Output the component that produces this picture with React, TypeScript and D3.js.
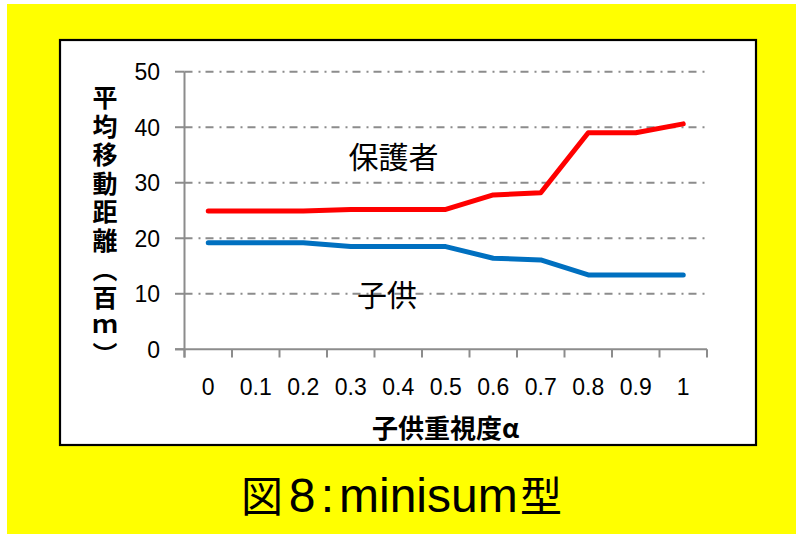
import React from "react";
import * as d3 from "d3";

const categories = ["0", "0.1", "0.2", "0.3", "0.4", "0.5", "0.6", "0.7", "0.8", "0.9", "1"];
const guardianValues = [24.9, 24.9, 24.9, 25.2, 25.2, 25.2, 27.8, 28.2, 39.0, 39.0, 40.6];
const childValues = [19.2, 19.2, 19.2, 18.5, 18.5, 18.5, 16.4, 16.1, 13.4, 13.4, 13.4];
const yTicks = [0, 10, 20, 30, 40, 50];

const W = 796;
const H = 534;

export default function App() {
  const x = d3.scaleBand<string>().domain(categories).range([184.5, 707]).padding(0);
  const y = d3.scaleLinear().domain([0, 50]).range([349.3, 71.7]);
  const line = d3
    .line<number>()
    .x((_, i) => (x(categories[i]) as number) + x.bandwidth() / 2)
    .y((d) => y(d));
  const boundaries = [...categories.map((c) => x(c) as number), x.range()[1]];
  const gridColor = "#8c8c8c";
  const numFont = "'Liberation Sans', Arial, sans-serif";
  const cjkFont = "'Noto Sans CJK JP', sans-serif";

  return (
    <svg
      width={W}
      height={H}
      style={{ position: "absolute", left: 0, top: 0, background: "#ffffff" }}
    >
      <rect x={7} y={4} width={W - 7} height={H - 4} fill="#ffff00" />
      <rect x={60} y={40} width={696} height={405} fill="#ffffff" stroke="#000000" strokeWidth={2.2} />

      {/* gridlines */}
      {yTicks
        .filter((t) => t > 0)
        .map((t) => (
          <line
            key={"g" + t}
            x1={184.5}
            x2={707}
            y1={y(t)}
            y2={y(t)}
            stroke={gridColor}
            strokeWidth={2}
            strokeDasharray="8,6,2,5"
          />
        ))}

      {/* y axis */}
      <line x1={184.5} x2={184.5} y1={y(50)} y2={357.5} stroke={gridColor} strokeWidth={2} />
      {yTicks.map((t) => (
        <line key={"yt" + t} x1={175} x2={184.5} y1={y(t)} y2={y(t)} stroke={gridColor} strokeWidth={2} />
      ))}
      {yTicks.map((t) => (
        <text
          key={"yl" + t}
          x={160}
          y={y(t) + 8.5}
          textAnchor="end"
          fontFamily={numFont}
          fontSize={23}
          fill="#000"
        >
          {t}
        </text>
      ))}

      {/* x axis */}
      <line x1={175} x2={707} y1={y(0)} y2={y(0)} stroke={gridColor} strokeWidth={2} />
      {boundaries.map((b, i) => (
        <line key={"xt" + i} x1={b} x2={b} y1={y(0)} y2={357.5} stroke={gridColor} strokeWidth={2} />
      ))}
      {categories.map((c) => (
        <text
          key={"xl" + c}
          x={(x(c) as number) + x.bandwidth() / 2}
          y={395}
          textAnchor="middle"
          fontFamily={numFont}
          fontSize={23}
          fill="#000"
        >
          {c}
        </text>
      ))}

      {/* lines */}
      <path
        d={line(guardianValues) as string}
        fill="none"
        stroke="#ff0000"
        strokeWidth={5}
        strokeLinecap="round"
        strokeLinejoin="round"
      />
      <path
        d={line(childValues) as string}
        fill="none"
        stroke="#0070c0"
        strokeWidth={5}
        strokeLinecap="round"
        strokeLinejoin="round"
      />

      {/* annotations */}
      <text x={393.5} y={168} textAnchor="middle" fontFamily={cjkFont} fontSize={30} fill="#000">
        保護者
      </text>
      <text x={387} y={306} textAnchor="middle" fontFamily={cjkFont} fontSize={30} fill="#000">
        子供
      </text>

      {/* axis titles */}
      <text
        x={445.5}
        y={438}
        textAnchor="middle"
        fontFamily={cjkFont}
        fontWeight="bold"
        fontSize={26}
        fill="#000"
      >
        子供重視度α
      </text>
      <text
        x={105}
        y={85}
        fontFamily={cjkFont}
        fontWeight="bold"
        fontSize={25}
        fill="#000"
        style={{ writingMode: "vertical-rl", letterSpacing: "3.6px" } as React.CSSProperties}
      >
        平均移動距離（百ｍ）
      </text>

      {/* figure title */}
      <text y={512} fill="#000">
        <tspan x={241} fontFamily={cjkFont} fontSize={42}>
          図
        </tspan>
        <tspan x={302} textAnchor="middle" fontFamily={numFont} fontSize={48}>
          8
        </tspan>
        <tspan x={327.5} textAnchor="middle" fontFamily={numFont} fontSize={48}>
          :
        </tspan>
        <tspan x={339} fontFamily={numFont} fontSize={48}>
          minisum
        </tspan>
        <tspan x={520} fontFamily={cjkFont} fontSize={42}>
          型
        </tspan>
      </text>
    </svg>
  );
}
